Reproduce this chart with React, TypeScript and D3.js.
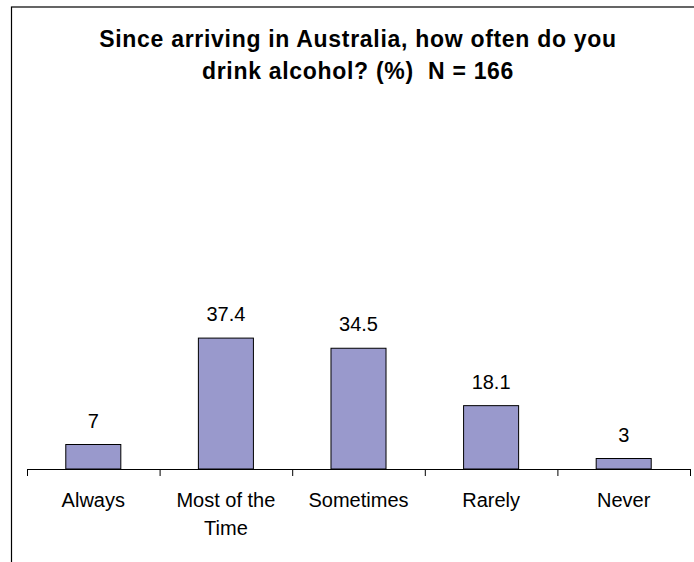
import React, { useEffect, useRef } from 'react';
import * as d3 from 'd3';

const categories = ['Always', 'Most of the Time', 'Sometimes', 'Rarely', 'Never'];
const categoryLines = [['Always'], ['Most of the', 'Time'], ['Sometimes'], ['Rarely'], ['Never']];
const values = [7, 37.4, 34.5, 18.1, 3];
const valueLabels = ['7', '37.4', '34.5', '18.1', '3'];
const titleLines = ['Since arriving in Australia, how often do you', 'drink alcohol? (%)  N = 166'];

const W = 694;
const H = 562;
const FONT = "'Liberation Sans', Arial, sans-serif";

const App: React.FC = () => {
  const svgRef = useRef<SVGSVGElement>(null);

  useEffect(() => {
    const svg = d3.select(svgRef.current).html('');

    // outer chart frame (runs off the right and bottom of the picture)
    svg.append('rect')
      .attr('x', 11.5).attr('y', 7)
      .attr('width', 720).attr('height', 600)
      .attr('fill', 'white').attr('stroke', 'black').attr('stroke-width', 1.2);

    // title
    svg.append('text')
      .attr('x', 358).attr('y', 47)
      .attr('text-anchor', 'middle')
      .attr('font-family', FONT).attr('font-weight', 'bold').attr('font-size', 23)
      .attr('letter-spacing', 0.7)
      .style('white-space', 'pre')
      .selectAll('tspan')
      .data(titleLines).enter().append('tspan')
        .attr('x', 358)
        .attr('dy', (_, i) => (i === 0 ? 0 : 32))
        .text(d => d);

    const x0 = 27, x1 = 690, axisY = 469;
    const p = 0.585;
    const x = d3.scaleBand<string>().domain(categories).range([x0, x1])
      .paddingInner(p).paddingOuter(p / 2);
    const y = d3.scaleLinear().domain([0, 40]).range([axisY, axisY - 140]);
    const step = x.step();

    const g = svg.append('g');

    g.selectAll('rect.bar')
      .data(values).enter().append('rect')
        .attr('class', 'bar')
        .attr('x', (_, i) => x(categories[i])!)
        .attr('y', d => y(d))
        .attr('width', x.bandwidth())
        .attr('height', d => axisY - y(d))
        .attr('fill', '#9999cc')
        .attr('stroke', 'black').attr('stroke-width', 1);

    g.selectAll('text.value')
      .data(values).enter().append('text')
        .attr('class', 'value')
        .attr('x', (_, i) => x(categories[i])! + x.bandwidth() / 2)
        .attr('y', d => y(d) - 17)
        .attr('text-anchor', 'middle')
        .attr('font-family', FONT).attr('font-size', 20)
        .attr('fill', 'black')
        .text((_, i) => valueLabels[i]);

    // category axis with ticks on band boundaries
    g.append('line')
      .attr('x1', x0).attr('x2', x1)
      .attr('y1', axisY + 0.5).attr('y2', axisY + 0.5)
      .attr('stroke', 'black').attr('stroke-width', 1.2);

    g.selectAll('line.tick')
      .data(d3.range(categories.length + 1)).enter().append('line')
        .attr('class', 'tick')
        .attr('x1', i => x0 + i * step + 0.5).attr('x2', i => x0 + i * step + 0.5)
        .attr('y1', axisY).attr('y2', axisY + 7)
        .attr('stroke', 'black').attr('stroke-width', 1);

    const lbl = g.selectAll('text.cat')
      .data(categoryLines).enter().append('text')
        .attr('class', 'cat')
        .attr('text-anchor', 'middle')
        .attr('font-family', FONT).attr('font-size', 20)
        .attr('fill', 'black');
    lbl.selectAll('tspan')
      .data((d, i) => d.map(t => ({ t, cx: x(categories[i])! + x.bandwidth() / 2 })))
      .enter().append('tspan')
        .attr('x', d => d.cx)
        .attr('y', (_, j) => 507 + j * 28)
        .text(d => d.t);
  }, []);

  return (
    <svg ref={svgRef} width={W} height={H}
      style={{ position: 'absolute', left: 0, top: 0, background: 'white' }} />
  );
};

export default App;
